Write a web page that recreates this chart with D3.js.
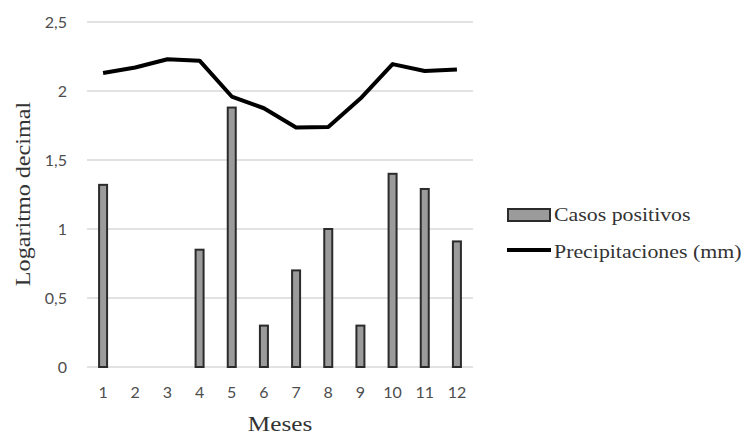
<!DOCTYPE html>
<html>
<head>
<meta charset="utf-8">
<style>
    body { margin: 0; background: #fff; }
    .grid line { stroke: #d9d9d9; stroke-width: 1.5; }
</style>
</head>
<body>
<svg width="743" height="435"></svg>
<script src="https://d3js.org/d3.v7.min.js"></script>
<script>
    let months = ["1", "2", "3", "4", "5", "6", "7", "8", "9", "10", "11", "12"]
    let casos = [1.32, 0, 0, 0.85, 1.88, 0.30, 0.70, 1.00, 0.30, 1.40, 1.29, 0.91]
    let precip = [2.13, 2.17, 2.23, 2.22, 1.96, 1.875, 1.735, 1.74, 1.945, 2.195, 2.145, 2.155]
    let yTicks = [0, 0.5, 1, 1.5, 2, 2.5]

    let serif = "'Liberation Serif', 'Times New Roman', serif"
    let sans = "Lato, 'Open Sans', sans-serif"
    let svg = d3.select("svg")
    let margin = { left: 87, right: 473, top: 22, bottom: 367 }

    let x = d3.scaleBand()
        .domain(months)
        .range([margin.left, margin.right])

    let y = d3.scaleLinear()
        .domain([0, 2.5])
        .range([margin.bottom, margin.top])

    // gridlines
    svg.append("g")
        .attr("class", "grid")
        .selectAll("line")
        .data(yTicks)
        .join("line")
        .attr("x1", margin.left)
        .attr("x2", margin.right)
        .attr("y1", d => y(d))
        .attr("y2", d => y(d))

    let yAxis = d3.axisLeft(y)
        .tickValues(yTicks)
        .tickSize(0)
        .tickPadding(20)
        .tickFormat(d => String(d).replace(".", ","))

    svg.append("g")
        .attr("transform", "translate(" + margin.left + ",0)")
        .call(yAxis)
        .call(g => g.select(".domain").remove())
        .call(g => g.selectAll("text")
            .style("font-family", sans)
            .style("font-size", "16px")
            .style("fill", "#4d4d4d"))

    let xAxis = d3.axisBottom(x)
        .tickSize(0)
        .tickPadding(20)

    svg.append("g")
        .attr("transform", "translate(0," + margin.bottom + ")")
        .call(xAxis)
        .call(g => g.select(".domain").remove())
        .call(g => g.selectAll("text")
            .style("font-family", sans)
            .style("font-size", "16px")
            .style("fill", "#4d4d4d"))

    // bars
    let barW = 8
    svg.append("g")
        .selectAll("rect")
        .data(casos.map((v, i) => ({ m: months[i], v: v })).filter(d => d.v > 0))
        .join("rect")
        .attr("x", d => x(d.m) + x.bandwidth() / 2 - barW / 2)
        .attr("y", d => y(d.v))
        .attr("width", barW)
        .attr("height", d => y(0) - y(d.v))
        .attr("fill", "#9b9b9b")
        .attr("stroke", "#2b2b2b")
        .attr("stroke-width", 2)

    // line
    let line = d3.line()
        .x((d, i) => x(months[i]) + x.bandwidth() / 2)
        .y(d => y(d))

    svg.append("path")
        .datum(precip)
        .attr("d", line)
        .attr("fill", "none")
        .attr("stroke", "#000")
        .attr("stroke-width", 4)
        .attr("stroke-linejoin", "round")

    // axis titles (glyphs in the reference are a bit wider than Liberation Serif)
    svg.append("text")
        .attr("transform", "translate(" + (margin.left + margin.right) / 2 + ",431) scale(1.2,1)")
        .attr("text-anchor", "middle")
        .style("font-family", serif)
        .style("font-size", "21px")
        .style("fill", "#333")
        .text("Meses")

    svg.append("text")
        .attr("transform", "translate(30,194) rotate(-90) scale(1.15,1)")
        .attr("text-anchor", "middle")
        .style("font-family", serif)
        .style("font-size", "21px")
        .style("fill", "#333")
        .text("Logaritmo decimal")

    // legend
    let legend = svg.append("g")
    legend.append("rect")
        .attr("x", 508).attr("y", 209)
        .attr("width", 42).attr("height", 12)
        .attr("fill", "#9b9b9b")
        .attr("stroke", "#2b2b2b")
        .attr("stroke-width", 2)
    legend.append("text")
        .attr("transform", "translate(554,221) scale(1.15,1)")
        .style("font-family", serif)
        .style("font-size", "19px")
        .style("fill", "#333")
        .text("Casos positivos")
    legend.append("line")
        .attr("x1", 507).attr("x2", 551)
        .attr("y1", 250).attr("y2", 250)
        .attr("stroke", "#000")
        .attr("stroke-width", 4)
    legend.append("text")
        .attr("transform", "translate(554,258) scale(1.15,1)")
        .style("font-family", serif)
        .style("font-size", "19px")
        .style("fill", "#333")
        .text("Precipitaciones (mm)")
</script>
</body>
</html>
